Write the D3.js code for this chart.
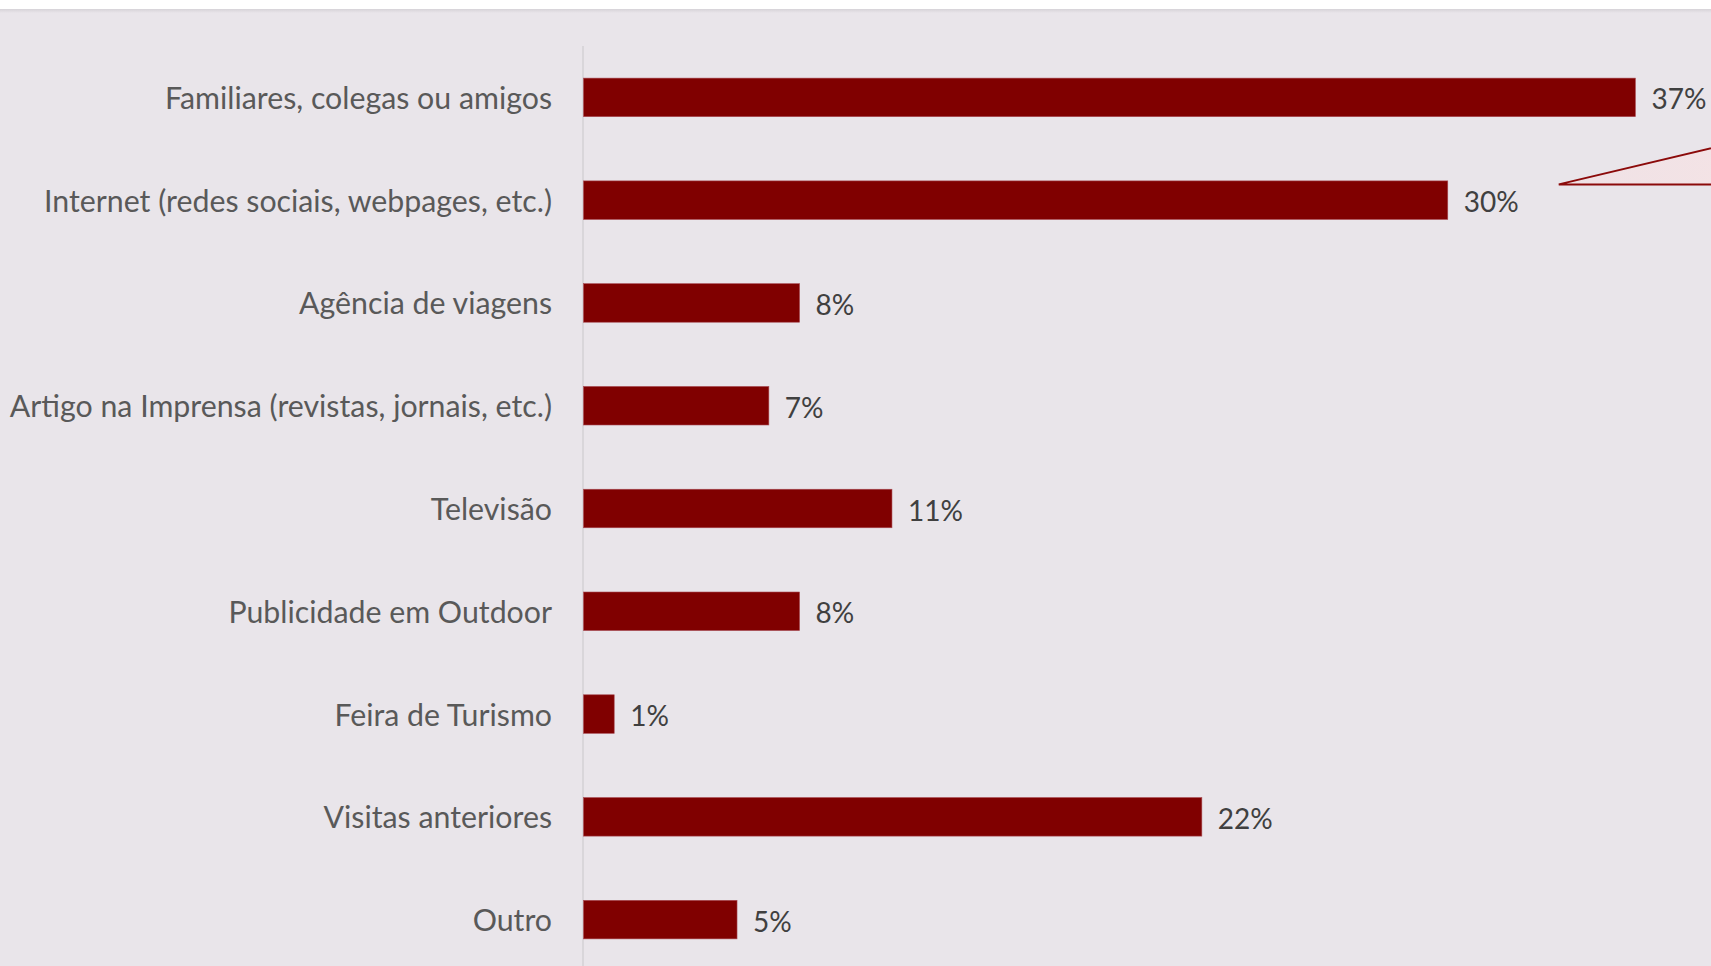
<!DOCTYPE html>
<html>
<head>
<meta charset="utf-8">
<script src="https://cdn.jsdelivr.net/npm/d3@7"></script>
<style>
  body { margin: 0; background: #ffffff; overflow: hidden; }
  text { font-family: Lato, "Open Sans", sans-serif; }
</style>
</head>
<body>
<script>
// categories and values (% of respondents)
var categories = [
  "Familiares, colegas ou amigos",
  "Internet (redes sociais, webpages, etc.)",
  "Agência de viagens",
  "Artigo na Imprensa (revistas, jornais, etc.)",
  "Televisão",
  "Publicidade em Outdoor",
  "Feira de Turismo",
  "Visitas anteriores",
  "Outro"
];
var values = [37.0, 30.4, 7.6, 6.52, 10.85, 7.6, 1.08, 21.75, 5.4];

var width = 1711, height = 966;

var svg = d3.select("body")
  .append("svg")
  .attr("width", width)
  .attr("height", height);

var defs = svg.append("defs");
var shade = defs.append("linearGradient").attr("id", "topShade")
  .attr("x1", 0).attr("y1", 0).attr("x2", 0).attr("y2", 1);
shade.append("stop").attr("offset", "0%").attr("stop-color", "#d6d3d8");
shade.append("stop").attr("offset", "100%").attr("stop-color", "#e9e5ea");

var pink = defs.append("linearGradient").attr("id", "calloutFill")
  .attr("x1", 0).attr("y1", 0).attr("x2", 1).attr("y2", 0);
pink.append("stop").attr("offset", "0%").attr("stop-color", "#efe2e6");
pink.append("stop").attr("offset", "100%").attr("stop-color", "#f5e3e5");

// background panel
svg.append("rect")
  .attr("x", 0).attr("y", 9)
  .attr("width", width).attr("height", height - 9)
  .attr("fill", "#e9e5ea");
svg.append("rect")
  .attr("x", 0).attr("y", 9)
  .attr("width", width).attr("height", 4)
  .attr("fill", "url(#topShade)");

var x = d3.scaleLinear()
  .domain([0, 40])
  .range([583.5, 583.5 + 40 * 28.43]);

var y = d3.scaleBand()
  .domain(categories)
  .range([46, 971])
  .paddingInner(0.625)
  .paddingOuter(0.3125);

// vertical axis line
svg.append("line")
  .attr("x1", x(0) - 0.5).attr("x2", x(0) - 0.5)
  .attr("y1", 46).attr("y2", height)
  .attr("stroke", "#d9d6da")
  .attr("stroke-width", 2);

// bars
svg.selectAll(".bar")
  .data(values)
  .enter()
  .append("rect")
  .attr("class", "bar")
  .attr("x", x(0))
  .attr("y", function(d, i) { return y(categories[i]); })
  .attr("width", function(d) { return x(d) - x(0); })
  .attr("height", y.bandwidth())
  .attr("fill", "#800000")
  .attr("stroke", "#a84a52")
  .attr("stroke-width", 0.6);

// category labels
svg.selectAll(".cat")
  .data(categories)
  .enter()
  .append("text")
  .attr("class", "cat")
  .attr("x", 552)
  .attr("y", function(d) { return y(d) + y.bandwidth() / 2 + 11.5; })
  .attr("text-anchor", "end")
  .attr("font-size", 30.3)
  .attr("fill", "#595959")
  .text(function(d) { return d; });

// value labels
svg.selectAll(".val")
  .data(values)
  .enter()
  .append("text")
  .attr("class", "val")
  .attr("x", function(d) { return x(d) + 16; })
  .attr("y", function(d, i) { return y(categories[i]) + y.bandwidth() / 2 + 12; })
  .attr("font-size", 28)
  .attr("fill", "#404040")
  .text(function(d) { return Math.round(d) + "%"; });

// callout pointer, body sits off the right edge
var tipX = x(values[1]) + 111, tipY = y(categories[1]) + 3.5;
svg.append("path")
  .attr("d", "M" + tipX + "," + tipY +
             " L" + (tipX + 230) + "," + (tipY - 230 * 0.237) +
             " L" + (tipX + 230) + "," + tipY + " Z")
  .attr("fill", "url(#calloutFill)")
  .attr("stroke", "#8b0a0a")
  .attr("stroke-width", 2)
  .attr("stroke-linejoin", "miter");
</script>
</body>
</html>
